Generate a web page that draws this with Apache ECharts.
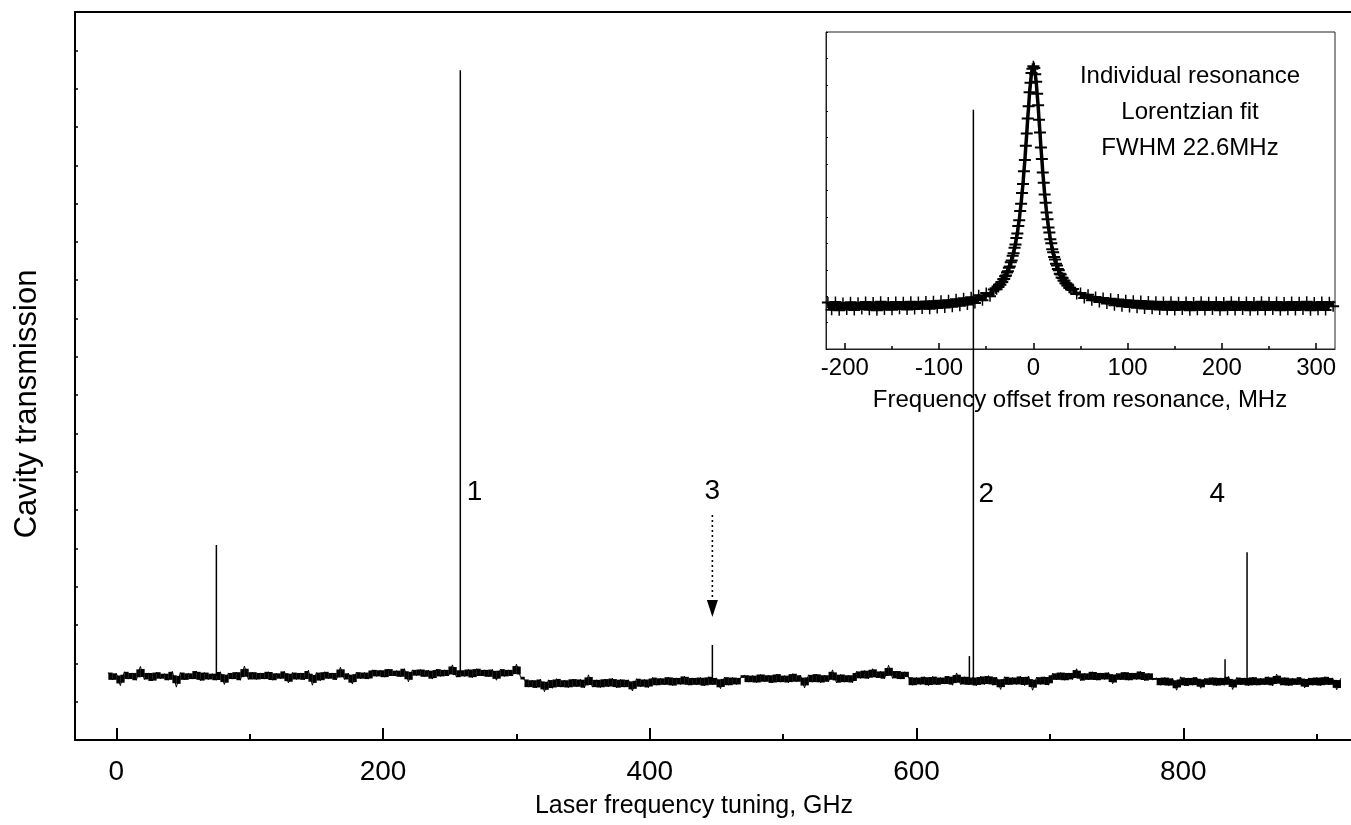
<!DOCTYPE html>
<html><head><meta charset="utf-8">
<script src="https://cdn.jsdelivr.net/npm/echarts@6/dist/echarts.min.js"></script>
<style>html,body{margin:0;padding:0;background:#fff}#c{width:1351px;height:825px}</style>
</head><body><div id="c"></div>
<script>
const FONT = '"Liberation Sans", Arial, sans-serif';

// ---------- main panel ----------
const mainXTicks = [0, 200, 400, 600, 800];
const mainXMinor = [100, 300, 500, 700, 900];
const traceStart = -6, traceStep = 3;   // GHz sampling of the baseline trace
const traceY = [
  // -6 .. 99
  17.6,15.7,17.4,14.2,17.8,15.9,17.5,15.6,19.2,15.8,17.5,15.4,17.7,16.0,17.3,15.6,17.9,13.8,17.6,15.7,
  17.4,15.9,18.0,15.5,17.6,15.8,17.3,15.6,17.8,14.5,17.5,15.9,17.7,15.6,19.3,15.8,
  // 102 .. 189
  17.7,15.8,17.5,15.9,17.8,15.6,17.4,16.0,17.9,14.9,17.6,15.8,17.5,15.7,18.2,14.3,17.6,15.5,17.8,16.0,
  17.5,15.7,19.0,15.8,17.4,14.6,17.7,16.0,17.6,15.9,
  // 192 .. 303
  18.3,16.6,18.2,16.4,18.5,16.7,18.1,16.5,18.6,15.2,18.3,16.8,18.4,16.5,18.2,15.9,18.5,16.6,18.3,16.7,
  19.6,16.4,18.2,16.6,18.4,16.3,18.6,16.7,18.3,16.5,18.4,15.6,18.5,16.6,18.3,16.7,19.8,16.5,
  // 306 .. 399
  15.8,13.8,15.6,13.6,15.9,12.6,15.7,13.5,16.0,13.8,15.6,13.7,15.9,13.9,15.8,13.6,17.0,13.8,15.7,13.7,
  15.9,13.9,16.1,13.6,15.8,13.8,15.7,12.8,16.0,13.9,15.8,13.7,
  // 402 .. 468
  16.3,14.3,16.1,14.4,16.4,14.2,16.2,14.5,16.6,14.3,16.2,14.4,16.3,14.1,16.5,14.4,16.2,13.4,16.4,14.3,
  16.3,14.5,16.2,
  // 471 .. 552
  16.9,15.1,16.8,15.0,17.1,15.2,16.9,14.9,17.2,15.1,16.8,15.0,17.3,15.2,16.9,13.6,17.0,15.1,17.2,15.0,
  16.9,15.2,18.3,14.9,17.1,15.1,16.9,15.0,
  // 555 .. 591
  17.9,16.1,18.1,16.0,18.6,16.2,17.9,16.0,19.5,16.1,18.0,15.9,17.8,
  // 594 .. 699
  16.4,14.3,16.3,14.5,16.5,14.2,16.6,14.4,16.3,14.6,16.7,14.3,17.5,14.5,16.5,14.4,16.3,14.2,16.6,14.5,
  16.8,14.3,16.4,13.2,16.5,14.4,16.3,14.5,16.6,14.2,16.7,13.0,16.4,14.5,16.5,14.3,
  // 702 .. 777
  17.4,15.7,17.6,15.6,17.5,15.8,18.6,15.5,17.4,15.7,17.8,15.6,17.5,15.8,17.6,14.7,17.4,15.7,17.7,15.6,
  17.5,15.8,17.9,15.5,17.4,15.7,
  // 780 .. 918
  16.2,14.3,16.3,14.2,16.1,13.0,16.5,14.1,16.2,14.3,16.4,13.5,16.1,14.4,16.3,14.2,16.2,14.3,16.6,13.2,
  16.3,14.4,16.2,14.2,16.4,14.3,16.1,14.4,16.5,14.1,17.2,14.3,16.3,14.2,16.1,14.4,16.4,13.6,16.2,14.3,
  16.3,14.2,16.5,14.4,16.2,13.1,16.1
];
// resonances: [GHz, base, top]
const peaks = [
  [75, 16.7, 50.9], [257.9, 17.5, 174.8], [446.9, 15.3, 24.8], [639.6, 15.5, 21.9],
  [642.6, 15.5, 164.5], [831.3, 15.3, 21.1], [847.8, 15.3, 49.0]
];
const peakLabels = [['1', 268.5, 64.6], ['2', 652.3, 64.2], ['3', 446.9, 65.0], ['4', 825.5, 64.2]];
const arrowLine = [446.9, 58.7, 32.1]; // x, from, to (tip)

// ---------- inset ----------
const insetXTicks = [-200, -100, 0, 100, 200, 300];
const insetXMinor = [-150, -50, 50, 150, 250];
const insetLeftStart = -218, insetLeftStep = 4;
const insetLeftY = [
  1.76,1.49,1.78,1.47,1.74,1.50,1.77,1.48,1.75,1.51,1.78,1.49,1.76,1.47,1.79,1.50,1.76,1.49,1.78,1.52,
  1.77,1.50,1.79,1.51,1.78,1.53,1.80,1.52,1.81,1.55,1.83,1.57,1.85,1.60,1.88,1.64,1.92,1.68,1.96,1.74,
  2.03,1.85,2.12,2.00,2.25
];
const insetCoreStart = -40, insetCoreStep = 1;
const insetCoreY = [
  2.30,2.26,2.37,2.35,2.44,2.43,2.53,2.54,2.64,2.65,2.75,2.78,2.90,2.94,3.08,3.12,3.28,3.35,3.53,3.62,
  3.83,3.96,4.20,4.37,4.66,4.87,5.22,5.50,5.91,6.25,6.73,7.15,7.69,8.16,8.73,9.19,9.72,10.08,10.45,10.61,
  10.70,
  10.64,10.40,10.12,9.66,9.23,8.68,8.20,7.63,7.19,6.68,6.29,5.85,5.54,5.17,4.91,4.60,4.41,4.15,4.00,3.78,
  3.66,3.48,3.39,3.23,3.16,3.03,2.98,2.85,2.82,2.71,2.69,2.59,2.58,2.49,2.48,2.40,2.40,2.32,2.32,2.25
];
const insetRightStart = 42, insetRightStep = 4;
const insetRightY = [
  2.27,2.08,2.12,1.93,2.05,1.85,1.97,1.78,1.93,1.72,1.90,1.66,1.87,1.62,1.85,1.59,1.83,1.56,1.82,1.53,
  1.80,1.52,1.79,1.50,1.78,1.49,1.79,1.48,1.77,1.50,1.78,1.47,1.76,1.49,1.79,1.48,1.77,1.50,1.78,1.47,
  1.76,1.49,1.79,1.48,1.77,1.50,1.78,1.47,1.76,1.49,1.79,1.48,1.77,1.50,1.78,1.47,1.76,1.49,1.78,1.48,
  1.77,1.50,1.79,1.47,1.76,1.49,1.78,1.48,1.77,1.62
];
const insetNotes = ['Individual resonance', 'Lorentzian fit', 'FWHM 22.6MHz'];

// ---------- build ----------
const traceData = traceY.map((v, i) => [traceStart + i * traceStep, v]);
const insetData = []
  .concat(insetLeftY.map((v, i) => [insetLeftStart + i * insetLeftStep, v]))
  .concat(insetCoreY.map((v, i) => [insetCoreStart + i * insetCoreStep, v]))
  .concat(insetRightY.map((v, i) => [insetRightStart + i * insetRightStep, v]));

const chart = echarts.init(document.getElementById('c'), null, {renderer: 'canvas'});
const black = '#000';
const mainMin = -31, mainMax = 925.7;
const pxPerGHz = 1.3337;
const centered = {textAlign: 'center', textVerticalAlign: 'middle', align: 'center', verticalAlign: 'middle'};

// fills the spread between successive noisy samples so the trace reads as a dense band
function bandRenderer(points, maxH) {
  return function (params, api) {
    const i = params.dataIndex;
    if (i >= points.length - 1) return null;
    const a = api.coord(points[i]);
    const b = api.coord(points[i + 1]);
    const y0 = Math.min(a[1], b[1]), y1 = Math.max(a[1], b[1]);
    const h = Math.min(y1 - y0, maxH);
    const mid = (y0 + y1) / 2;
    return {type: 'rect', shape: {x: a[0], y: mid - h / 2, width: b[0] - a[0] + 0.3, height: h},
            style: {fill: black}};
  };
}

chart.setOption({
  animation: false,
  backgroundColor: '#fff',
  grid: [
    {left: 75, top: 12, width: (mainMax - mainMin) * pxPerGHz, height: 728, show: false},
    {left: 826, top: 32, width: 509, height: 317, show: true,
     borderColor: '#222', borderWidth: 1, backgroundColor: 'transparent'}
  ],
  xAxis: [
    {type: 'value', gridIndex: 0, min: mainMin, max: mainMax, position: 'bottom',
     axisLine: {onZero: false, lineStyle: {color: black, width: 2}},
     axisTick: {inside: true, length: 12, lineStyle: {color: black, width: 2}, customValues: mainXTicks},
     axisLabel: {customValues: mainXTicks, color: black, fontSize: 28, fontFamily: FONT, margin: 18},
     splitLine: {show: false}},
    {type: 'value', gridIndex: 0, min: mainMin, max: mainMax, position: 'bottom',
     axisLine: {show: false, onZero: false},
     axisTick: {inside: true, length: 6, lineStyle: {color: black, width: 2}, customValues: mainXMinor},
     axisLabel: {show: false}, splitLine: {show: false}},
    {type: 'value', gridIndex: 0, min: mainMin, max: mainMax, position: 'top',
     axisLine: {show: true, onZero: false, lineStyle: {color: black, width: 2}},
     axisTick: {show: false}, axisLabel: {show: false}, splitLine: {show: false}},
    {type: 'value', gridIndex: 1, min: -220, max: 320, position: 'bottom',
     axisLine: {onZero: false, lineStyle: {color: '#222', width: 1}},
     axisTick: {inside: true, length: 6, lineStyle: {color: black, width: 1.5}, customValues: insetXTicks},
     axisLabel: {customValues: insetXTicks, color: black, fontSize: 24, fontFamily: FONT, margin: 7},
     splitLine: {show: false}},
    {type: 'value', gridIndex: 1, min: -220, max: 320, position: 'bottom',
     axisLine: {show: false, onZero: false},
     axisTick: {inside: true, length: 3, lineStyle: {color: black, width: 1.5}, customValues: insetXMinor},
     axisLabel: {show: false}, splitLine: {show: false}}
  ],
  yAxis: [
    {type: 'value', gridIndex: 0, min: 0, max: 190, interval: 10,
     axisLine: {show: true, onZero: false, lineStyle: {color: black, width: 2}},
     axisTick: {show: true, inside: true, length: 3, lineStyle: {color: black, width: 1.5}},
     axisLabel: {show: false}, splitLine: {show: false}},
    {type: 'value', gridIndex: 1, min: 0, max: 12, interval: 1,
     axisLine: {show: true, onZero: false, lineStyle: {color: '#222', width: 1}},
     axisTick: {show: true, inside: true, length: 2, lineStyle: {color: black, width: 1}},
     axisLabel: {show: false}, splitLine: {show: false}}
  ],
  series: [
    // inset: dense band under the measured points
    {type: 'custom', xAxisIndex: 3, yAxisIndex: 1, data: insetData, silent: true,
     encode: {x: 0, y: 1}, renderItem: bandRenderer(insetData, 12)},
    // inset: measured points (crosses) joined by the fit line
    {type: 'line', xAxisIndex: 3, yAxisIndex: 1, data: insetData, silent: true,
     showSymbol: true, showAllSymbol: true,
     symbol: 'path://M0,4.5H12V6.5H0Z M5.25,0H6.75V11H5.25Z', symbolSize: [12, 11], symbolKeepAspect: false,
     itemStyle: {color: black, opacity: 1},
     lineStyle: {color: black, width: 3.5}},
    // main trace: dense noisy band ...
    {type: 'custom', xAxisIndex: 0, yAxisIndex: 0, data: traceData, silent: true,
     encode: {x: 0, y: 1}, renderItem: bandRenderer(traceData, 8)},
    // ... and the raw samples
    {type: 'line', xAxisIndex: 0, yAxisIndex: 0, data: traceData, showSymbol: false, symbol: 'none',
     lineStyle: {color: black, width: 1}, silent: true},
    {type: 'custom', xAxisIndex: 0, yAxisIndex: 0, data: peaks, silent: true,
     encode: {x: 0, y: [1, 2]},
     renderItem: function (params, api) {
       const p0 = api.coord([api.value(0), api.value(1)]);
       const p1 = api.coord([api.value(0), api.value(2)]);
       return {type: 'line', shape: {x1: p0[0], y1: p0[1], x2: p1[0], y2: p1[1]},
               style: {stroke: black, lineWidth: 1.5}};
     }},
    {type: 'custom', xAxisIndex: 0, yAxisIndex: 0, data: [arrowLine], silent: true,
     encode: {x: 0, y: [1, 2]},
     renderItem: function (params, api) {
       const top = api.coord([api.value(0), api.value(1)]);
       const tip = api.coord([api.value(0), api.value(2)]);
       const headH = 17, headW = 11;
       return {type: 'group', children: [
         {type: 'line', shape: {x1: top[0], y1: top[1], x2: tip[0], y2: tip[1] - headH},
          style: {stroke: black, lineWidth: 1.6, lineDash: [2, 3]}},
         {type: 'polygon', shape: {points: [[tip[0] - headW / 2, tip[1] - headH], [tip[0] + headW / 2, tip[1] - headH], [tip[0], tip[1]]]},
          style: {fill: black}}
       ]};
     }},
    {type: 'custom', xAxisIndex: 0, yAxisIndex: 0, silent: true,
     data: peakLabels.map(d => [d[1], d[2]]),
     encode: {x: 0, y: 1},
     renderItem: function (params, api) {
       const p = api.coord([api.value(0), api.value(1)]);
       return {type: 'text', x: p[0], y: p[1],
               style: Object.assign({text: peakLabels[params.dataIndex][0], font: '28px ' + FONT, fill: black}, centered)};
     }}
  ],
  graphic: [
    {type: 'text', x: 27, y: 404, rotation: Math.PI / 2, silent: true,
     style: Object.assign({text: 'Cavity transmission', font: '31px ' + FONT, fill: black}, centered)},
    {type: 'text', x: 694, y: 806, silent: true,
     style: Object.assign({text: 'Laser frequency tuning, GHz', font: '25px ' + FONT, fill: black}, centered)},
    {type: 'text', x: 1080, y: 400, silent: true,
     style: Object.assign({text: 'Frequency offset from resonance, MHz', font: '24px ' + FONT, fill: black}, centered)},
    {type: 'text', x: 1190, y: 76, silent: true,
     style: Object.assign({text: insetNotes[0], font: '24px ' + FONT, fill: black}, centered)},
    {type: 'text', x: 1190, y: 112, silent: true,
     style: Object.assign({text: insetNotes[1], font: '24px ' + FONT, fill: black}, centered)},
    {type: 'text', x: 1190, y: 148, silent: true,
     style: Object.assign({text: insetNotes[2], font: '24px ' + FONT, fill: black}, centered)}
  ]
});
</script></body></html>
